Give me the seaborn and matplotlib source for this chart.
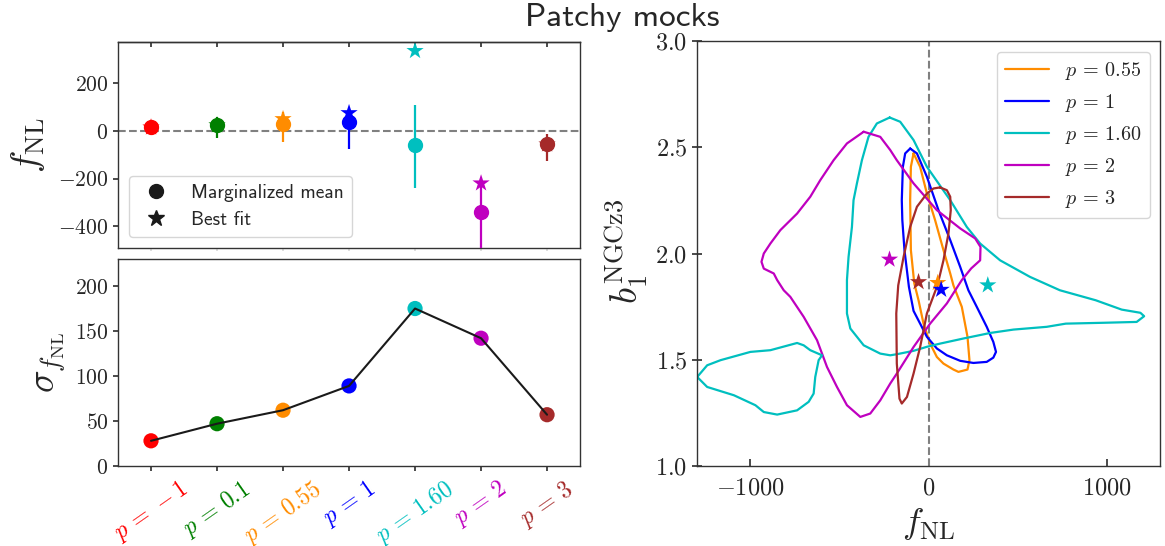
import matplotlib
matplotlib.use('Agg')
import matplotlib.pyplot as plt
from matplotlib.lines import Line2D
import seaborn as sns
import pandas as pd
import numpy as np

# ---------------- data ----------------
p_labels = [r'$p\,=\,-1$', r'$p\,=\,0.1$', r'$p\,=\,0.55$', r'$p\,=\,1$', r'$p\,=\,1.60$', r'$p\,=\,2$', r'$p\,=\,3$']
p_colors = ['red', 'green', 'darkorange', 'blue', '#00bfbf', '#bf00bf', 'brown']

fnl_mean = [15, 24, 28, 39, -59, -340, -56]
fnl_err_lo = [30, 53, 75, 114, 178, 200, 70]
fnl_err_hi = [28, 35, 53, 40, 168, 120, 42]
fnl_best = [15, 24, 50, 75, 335, -219, -56]
sigma_fnl = [28, 47, 62, 89, 175, 142, 57]

# right panel: 2D contours (fNL, b1) and best-fit stars
contour_labels = [r'$p\,=\,0.55$', r'$p\,=\,1$', r'$p\,=\,1.60$', r'$p\,=\,2$', r'$p\,=\,3$']
contour_colors = ['darkorange', 'blue', '#00bfbf', '#bf00bf', 'brown']

orange_fnl = [-84, -47, -9, 37, 84, 122, 140, 187, 219, 230, 219, 187, 168, 140, 84, 47, 9, -28, -56, -80, -99, -103, -99, -84]
orange_b = [2.471, 2.408, 2.282, 2.157, 2.016, 1.906, 1.850, 1.749, 1.608, 1.498, 1.454, 1.447, 1.443, 1.454, 1.482, 1.513, 1.576, 1.670, 1.780, 1.860, 2.016, 2.251, 2.408, 2.471]

blue_fnl = [-103, -65, -9, 56, 122, 178, 224, 271, 327, 364, 379, 364, 327, 252, 178, 103, 47, -9, -47, -84, -110, -135, -147, -150, -144, -131, -103]
blue_b = [2.494, 2.471, 2.361, 2.204, 2.063, 1.937, 1.827, 1.749, 1.655, 1.584, 1.537, 1.510, 1.490, 1.485, 1.495, 1.521, 1.553, 1.608, 1.670, 1.730, 1.843, 2.016, 2.157, 2.251, 2.408, 2.471, 2.494]

cyan_fnl = [-218, -159, -84, -9, 56, 122, 215, 290, 402, 570, 738, 939, 1085, 1190, 1211, 1169, 981, 771, 664, 477, 346, 196, 65, -9, -84, -178, -215, -271, -364, -439, -458, -458, -449, -430, -421, -402, -374, -337, -290, -218]
cyan_b = [2.640, 2.620, 2.534, 2.408, 2.330, 2.251, 2.125, 2.047, 1.968, 1.890, 1.827, 1.780, 1.736, 1.721, 1.705, 1.678, 1.674, 1.670, 1.655, 1.642, 1.626, 1.600, 1.576, 1.561, 1.542, 1.526, 1.521, 1.529, 1.568, 1.647, 1.718, 1.875, 1.984, 2.125, 2.251, 2.330, 2.439, 2.549, 2.612, 2.640]
cyan_lobe_fnl = [-1299, -1243, -1168, -1000, -888, -738, -701, -664, -598, -617, -636, -645, -673, -738, -850, -925, -972, -1093, -1243, -1299]
cyan_lobe_b = [1.419, 1.474, 1.498, 1.537, 1.545, 1.579, 1.568, 1.545, 1.521, 1.498, 1.419, 1.341, 1.302, 1.262, 1.242, 1.254, 1.286, 1.333, 1.372, 1.419]

magenta_fnl = [-364, -458, -533, -608, -664, -738, -832, -888, -925, -938, -925, -869, -850, -813, -776, -701, -626, -570, -514, -458, -383, -327, -271, -215, -178, -84, 9, 103, 187, 240, 290, 292, 262, 178, 47, -84, -178, -215, -271, -364]
magenta_b = [2.573, 2.518, 2.439, 2.345, 2.267, 2.188, 2.110, 2.047, 2.000, 1.961, 1.929, 1.906, 1.875, 1.827, 1.796, 1.702, 1.592, 1.466, 1.372, 1.286, 1.231, 1.247, 1.309, 1.388, 1.435, 1.560, 1.670, 1.765, 1.875, 1.930, 1.968, 2.031, 2.071, 2.118, 2.204, 2.330, 2.439, 2.487, 2.549, 2.573]

brown_fnl = [65, 103, 122, 125, 112, 84, 50, -9, -47, -84, -121, -150, -163, -178, -181, -170, -140, -103, -65, -9, 28, 65]
brown_b = [2.311, 2.298, 2.267, 2.204, 2.094, 1.968, 1.850, 1.718, 1.560, 1.435, 1.325, 1.294, 1.317, 1.482, 1.718, 1.850, 1.984, 2.125, 2.220, 2.282, 2.306, 2.311]

star_fnl = [52, 71, 333, -219, -56]
star_b = [1.862, 1.830, 1.851, 1.972, 1.866]

# ---------------- style ----------------
sns.set_theme(style='ticks')
plt.rcParams['font.family'] = 'serif'
plt.rcParams['font.serif'] = ['cmr10']
plt.rcParams['mathtext.fontset'] = 'cm'
plt.rcParams['axes.formatter.use_mathtext'] = True
plt.rcParams['axes.linewidth'] = 1.0
plt.rcParams['axes.edgecolor'] = '.2'

fig = plt.figure(figsize=(11.65, 5.46), dpi=100)
ax_top = fig.add_axes([0.1013, 0.5458, 0.3966, 0.3773])
ax_bot = fig.add_axes([0.1013, 0.1465, 0.3966, 0.3791])
ax_r = fig.add_axes([0.5983, 0.1465, 0.3974, 0.7784])

x = np.arange(len(p_labels))
pal = dict(zip(p_labels, p_colors))

# ---- top left: fNL mean and best fit ----
ax_top.axhline(0, color='gray', ls='--', lw=1.5, zorder=1)
sns.scatterplot(x=x, y=fnl_best, hue=p_labels, palette=pal, marker='*', s=170,
                linewidth=0, legend=False, ax=ax_top, zorder=2)
for i in range(len(x)):
    ax_top.errorbar(x[i], fnl_mean[i], yerr=[[fnl_err_lo[i]], [fnl_err_hi[i]]], fmt='o',
                    color=p_colors[i], ms=10, elinewidth=1.6, capsize=0, zorder=3)
ax_top.set_xlim(-0.5, 6.5)
ax_top.set_ylim(-490, 372)
ax_top.set_yticks([-400, -200, 0, 200])
ax_top.set_xticks(x)
ax_top.tick_params(axis='x', labelbottom=False, direction='out', length=2, color='0.85')
ax_top.tick_params(axis='y', labelsize=15.5, direction='out', length=3.5, color='.2')
sec = ax_top.secondary_xaxis('top')
sec.set_xticks(x)
sec.tick_params(direction='in', length=3.5, labeltop=False, color='.2')
ax_top.set_ylabel(r'$f_{\rm NL}$', fontsize=27)
ax_top.yaxis.set_label_coords(-0.154, 0.5)

handles = [Line2D([], [], marker='o', color='k', ls='', ms=10),
           Line2D([], [], marker='*', color='k', ls='', ms=12)]
ax_top.legend(handles, ['Marginalized mean', 'Best fit'], loc='lower left',
              bbox_to_anchor=(0.024, 0.053), borderaxespad=0,
              prop={'family': 'cmss10', 'size': 14})

# ---- bottom left: sigma(fNL) ----
sns.scatterplot(x=x, y=sigma_fnl, hue=p_labels, palette=pal, s=120, linewidth=0,
                legend=False, ax=ax_bot, zorder=2)
sns.lineplot(x=x, y=sigma_fnl, color='k', lw=1.5, ax=ax_bot, zorder=3)
ax_bot.set_xlim(-0.5, 6.5)
ax_bot.set_ylim(0, 230)
ax_bot.set_yticks([0, 50, 100, 150, 200])
ax_bot.set_xticks(x)
ax_bot.set_xticklabels(p_labels, rotation=35, ha='center', fontsize=17)
for lab, c in zip(ax_bot.get_xticklabels(), p_colors):
    lab.set_color(c)
ax_bot.tick_params(axis='both', direction='out', length=3.5, color='.2')
ax_bot.tick_params(axis='x', pad=4)
ax_bot.tick_params(axis='y', labelsize=15.5)
ax_bot.set_ylabel(r'$\sigma_{f_{\rm NL}}$', fontsize=27)
ax_bot.yaxis.set_label_coords(-0.108, 0.5)

# ---- right: contours ----
curves = [(orange_fnl, orange_b), (blue_fnl, blue_b), (cyan_fnl, cyan_b),
          (magenta_fnl, magenta_b), (brown_fnl, brown_b)]
for (cx, cy), lab, col in zip(curves, contour_labels, contour_colors):
    sns.lineplot(x=cx, y=cy, sort=False, estimator=None, color=col, lw=1.6,
                 label=lab, ax=ax_r)
sns.lineplot(x=cyan_lobe_fnl, y=cyan_lobe_b, sort=False, estimator=None, color='#00bfbf',
             lw=1.6, ax=ax_r)
ax_r.axvline(0, color='gray', ls='--', lw=1.5, zorder=1)
sns.scatterplot(x=star_fnl, y=star_b, hue=contour_labels, palette=dict(zip(contour_labels, contour_colors)),
                marker='*', s=170, linewidth=0, legend=False, ax=ax_r, zorder=5)
ax_r.set_xlim(-1300, 1300)
ax_r.set_ylim(1.0, 3.0)
ax_r.set_xticks([-1000, 0, 1000])
ax_r.set_yticks([1.0, 1.5, 2.0, 2.5, 3.0])
ax_r.yaxis.set_major_formatter(matplotlib.ticker.FormatStrFormatter(r'$%.1f$'))
ax_r.tick_params(axis='x', direction='in', length=5, labelsize=17.5, pad=8, color='.2')
ax_r.tick_params(axis='y', direction='inout', length=7, labelsize=17.5, color='.2')
ax_r.set_xlabel(r'$f_{\rm NL}$', fontsize=26)
ax_r.xaxis.set_label_coords(0.5, -0.095)
ax_r.set_ylabel(r'$b_1^{\rm NGCz3}$', fontsize=27)
ax_r.yaxis.set_label_coords(-0.101, 0.505)
ax_r.legend(loc='upper right', bbox_to_anchor=(0.978, 0.975), borderaxespad=0,
            fontsize=14.5, handlelength=2.2)

fig.suptitle('Patchy mocks', x=0.534, y=0.995, va='top', fontsize=24, family='cmss10')

fig.savefig('out.png', dpi=100)
